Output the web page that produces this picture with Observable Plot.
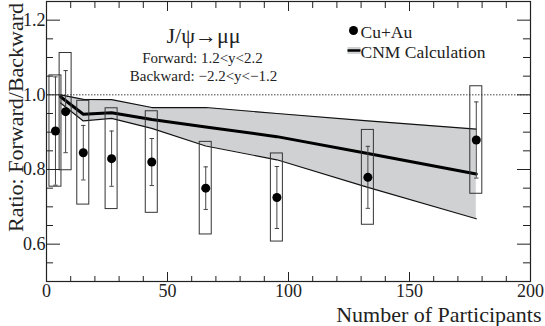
<!DOCTYPE html>
<html><head><meta charset="utf-8">
<script src="https://cdn.jsdelivr.net/npm/d3@7"></script>
<script src="https://cdn.jsdelivr.net/npm/@observablehq/plot@0.6"></script>
<style>
html,body{margin:0;padding:0;background:#fff}
#chart svg{display:block}
#chart svg, #chart svg text{font-family:"Liberation Serif","Times New Roman",serif !important}
</style>
</head><body><div id="chart"></div>
<script>
// Cu+Au data points
const npart   = [3.7, 7.9, 15.2, 26.9, 43.5, 65.8, 95.2, 132.8, 177.6];
const ratio   = [0.903, 0.955, 0.845, 0.829, 0.820, 0.750, 0.725, 0.779, 0.879];
const statErr = [0.145, 0.110, 0.073, 0.074, 0.063, 0.057, 0.083, 0.083, 0.102];
const sysErr  = [0.149, 0.157, 0.139, 0.135, 0.136, 0.124, 0.118, 0.127, 0.144];

// CNM calculation band
const modelNpart = [5.8, 15.2, 26.9, 43.5, 65.8, 95.2, 132.8, 177.6];
const cnmCentral = [0.995, 0.948, 0.952, 0.934, 0.914, 0.888, 0.843, 0.788];
const cnmUpper   = [1.000, 0.988, 0.987, 0.966, 0.966, 0.950, 0.930, 0.908];
const cnmLower   = [0.978, 0.930, 0.937, 0.910, 0.863, 0.826, 0.752, 0.668];

// ticks
const xTicks = [0, 50, 100, 150, 200];
const xMinor = [10, 20, 30, 40, 60, 70, 80, 90, 110, 120, 130, 140, 160, 170, 180, 190];
const yTicks = [0.6, 0.8, 1.0, 1.2];
const yMinor = [0.55, 0.65, 0.7, 0.75, 0.85, 0.9, 0.95, 1.05, 1.1, 1.15];

const W = 545, H = 326, mL = 46, mR = 15, mT = 1, mB = 45;
const fw = W - mL - mR, fh = H - mT - mB;
const serif = "Liberation Serif";
const ink = "#222";

const points = npart.map((x, i) => ({x, y: ratio[i], s: statErr[i], e: sysErr[i]}));
const model = modelNpart.map((x, i) => ({x, c: cnmCentral[i], lo: cnmLower[i], hi: cnmUpper[i]}));

const capSym = {draw(ctx) { ctx.moveTo(-2.2, 0); ctx.lineTo(2.2, 0); }};
const swatchRect = {draw(ctx) { ctx.rect(-6.5, -3.5, 13, 7); }};
const swatchLine = {draw(ctx) { ctx.moveTo(-6.5, 0); ctx.lineTo(6.5, 0); }};

const chart = Plot.plot({
  width: W, height: H,
  marginLeft: mL, marginRight: mR, marginTop: mT, marginBottom: mB,
  style: {fontFamily: serif, fontSize: "18px", color: ink, background: "#fff", overflow: "visible"},
  x: {domain: [0, 200], ticks: xTicks, tickSize: 0, tickPadding: 3, label: null},
  y: {domain: [0.5, 1.25], ticks: yTicks, tickFormat: ".1f", tickSize: 0, tickPadding: 1, label: null},
  marks: [
    Plot.areaY(model, {x: "x", y1: "lo", y2: "hi", fill: "#cfd1d2"}),
    Plot.ruleY([1], {stroke: "#444", strokeWidth: 1, strokeDasharray: "1.5,1.5"}),
    Plot.line(model, {x: "x", y: "hi", stroke: "#111", strokeWidth: 1.2}),
    Plot.line(model, {x: "x", y: "lo", stroke: "#111", strokeWidth: 1.2}),
    Plot.line(model, {x: "x", y: "c", stroke: "#000", strokeWidth: 3}),
    Plot.rect(points, {x1: "x", x2: "x", y1: d => d.y - d.e, y2: d => d.y + d.e,
      insetLeft: -6, insetRight: -6, fill: "none", stroke: "#333", strokeWidth: 1}),
    Plot.ruleX(points, {x: "x", y1: d => d.y - d.s, y2: d => d.y + d.s, stroke: "#444", strokeWidth: 1}),
    Plot.dot(points, {x: "x", y: d => d.y + d.s, symbol: capSym, fill: "none", stroke: "#444", strokeWidth: 1}),
    Plot.dot(points, {x: "x", y: d => d.y - d.s, symbol: capSym, fill: "none", stroke: "#444", strokeWidth: 1}),
    Plot.dot(points, {x: "x", y: "y", r: 4.5, fill: "#000", stroke: "none"}),
    Plot.frame({stroke: ink, strokeWidth: 1.2}),
    // inward ticks
    Plot.tickY(yTicks, {y: d => d, insetRight: fw - 14, stroke: ink}),
    Plot.tickY(yMinor, {y: d => d, insetRight: fw - 7, stroke: ink}),
    Plot.tickY(yTicks, {y: d => d, insetLeft: fw - 13, stroke: ink}),
    Plot.tickY(yMinor, {y: d => d, insetLeft: fw - 7, stroke: ink}),
    Plot.tickX(xTicks, {x: d => d, insetTop: fh - 9, stroke: ink}),
    Plot.tickX(xMinor, {x: d => d, insetTop: fh - 5, stroke: ink}),
    Plot.tickX(xTicks, {x: d => d, insetBottom: fh - 10, stroke: ink}),
    Plot.tickX(xMinor, {x: d => d, insetBottom: fh - 7, stroke: ink}),
    // axis titles
    Plot.text(["Ratio: Forward/Backward"], {text: d => d, frameAnchor: "left", rotate: -90,
      dx: 22 - mL, dy: 117 - (mT + fh / 2), lineAnchor: "bottom", textAnchor: "middle",
      fontSize: 22, fontFamily: serif, fill: ink}),
    Plot.text(["Number of Participants"], {text: d => d, frameAnchor: "bottom-right",
      dx: 11, dy: 40, lineAnchor: "bottom", textAnchor: "end", fontSize: 22, fontFamily: serif, fill: ink}),
    // annotation
    Plot.text(["J/ψ→μμ"], {text: d => d, frameAnchor: "top-left", dx: 157, dy: 41,
      lineAnchor: "bottom", textAnchor: "middle", fontSize: 22, fontFamily: serif, fill: ink}),
    Plot.text(["Forward: 1.2<y<2.2"], {text: d => d, frameAnchor: "top-left", dx: 156, dy: 61,
      lineAnchor: "bottom", textAnchor: "middle", fontSize: 15, fontFamily: serif, fill: ink}),
    Plot.text(["Backward: −2.2<y<−1.2"], {text: d => d, frameAnchor: "top-left", dx: 157, dy: 79,
      lineAnchor: "bottom", textAnchor: "middle", fontSize: 15, fontFamily: serif, fill: ink}),
    // legend
    Plot.dot([0], {frameAnchor: "top-left", dx: 353 - mL, dy: 30 - mT, r: 4.5, fill: "#000"}),
    Plot.text(["Cu+Au"], {text: d => d, frameAnchor: "top-left", dx: 360 - mL, dy: 37 - mT,
      lineAnchor: "bottom", textAnchor: "start", fontSize: 17.5, fontFamily: serif, fill: ink}),
    Plot.dot([0], {frameAnchor: "top-left", dx: 353.5 - mL, dy: 50 - mT, symbol: swatchRect, fill: "#cfd1d2", stroke: "none"}),
    Plot.dot([0], {frameAnchor: "top-left", dx: 353.5 - mL, dy: 50 - mT, symbol: swatchLine, fill: "none", stroke: "#000", strokeWidth: 2.5}),
    Plot.text(["CNM Calculation"], {text: d => d, frameAnchor: "top-left", dx: 360 - mL, dy: 57 - mT,
      lineAnchor: "bottom", textAnchor: "start", fontSize: 17.5, fontFamily: serif, fill: ink})
  ]
});
document.getElementById("chart").appendChild(chart);
</script>
</body></html>
